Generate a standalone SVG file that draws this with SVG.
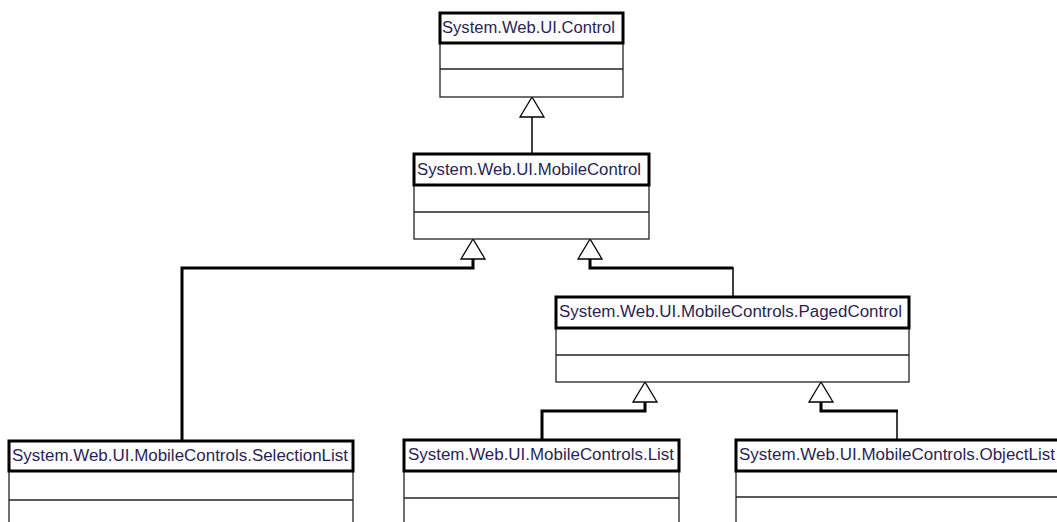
<svg xmlns="http://www.w3.org/2000/svg" width="1057" height="522" viewBox="0 0 1057 522">
<style>
.body{fill:#fff;stroke:#222;stroke-width:1.3}
.head{fill:#fff;stroke:#000;stroke-width:3}
.div{stroke:#222;stroke-width:1.3}
.lbl{font-family:"Liberation Sans",Arial,sans-serif;font-size:16px;fill:#2a1f55}
.thick{fill:none;stroke:#000;stroke-width:3}
.thin{fill:none;stroke:#000;stroke-width:1.5}
.tri{fill:#fff;stroke:#000;stroke-width:1.3}
</style>
<rect width="1057" height="522" fill="#fff"/>
<g id="connectors">
  <!-- MobileControl -> Control -->
  <line class="thin" x1="532" y1="117" x2="532" y2="153"/>
  <polygon class="tri" points="532,97 520,117 544,117"/>
  <!-- SelectionList -> MobileControl -->
  <polyline class="thick" points="182,440 182,268 473,268 473,259"/>
  <polygon class="tri" points="473,239 461,259 485,259"/>
  <!-- PagedControl -> MobileControl -->
  <polyline class="thick" points="590,259 590,268 733,268"/>
  <line class="thin" x1="733" y1="267" x2="733" y2="297"/>
  <polygon class="tri" points="590,239 578,259 602,259"/>
  <!-- List -> PagedControl -->
  <polyline class="thick" points="542,440 542,411 645,411 645,402"/>
  <polygon class="tri" points="645,382 633,402 657,402"/>
  <!-- ObjectList -> PagedControl -->
  <polyline class="thick" points="821,402 821,411 898,411"/>
  <line class="thin" x1="897" y1="410" x2="897" y2="440"/>
  <polygon class="tri" points="821,382 809,402 833,402"/>
</g>
<g id="n-control">
  <rect class="body" x="440" y="43" width="183" height="54"/>
  <line class="div" x1="440" y1="69" x2="623" y2="69"/>
  <rect class="head" x="440" y="13" width="183" height="30"/>
  <text class="lbl" x="442" y="33" textLength="173" lengthAdjust="spacingAndGlyphs">System.Web.UI.Control</text>
</g>
<g id="n-mobilecontrol">
  <rect class="body" x="414" y="185" width="235" height="54"/>
  <line class="div" x1="414" y1="212" x2="649" y2="212"/>
  <rect class="head" x="414" y="154" width="235" height="31"/>
  <text class="lbl" x="417" y="175" textLength="224" lengthAdjust="spacingAndGlyphs">System.Web.UI.MobileControl</text>
</g>
<g id="n-pagedcontrol">
  <rect class="body" x="556" y="328" width="353" height="54"/>
  <line class="div" x1="556" y1="355" x2="909" y2="355"/>
  <rect class="head" x="556" y="297" width="353" height="31"/>
  <text class="lbl" x="559" y="317" textLength="343" lengthAdjust="spacingAndGlyphs">System.Web.UI.MobileControls.PagedControl</text>
</g>
<g id="n-selectionlist">
  <rect class="body" x="9" y="471" width="344" height="60"/>
  <line class="div" x1="9" y1="500" x2="353" y2="500"/>
  <rect class="head" x="9" y="441" width="344" height="30"/>
  <text class="lbl" x="12" y="461" textLength="336" lengthAdjust="spacingAndGlyphs">System.Web.UI.MobileControls.SelectionList</text>
</g>
<g id="n-list">
  <rect class="body" x="404" y="471" width="275" height="60"/>
  <line class="div" x1="404" y1="498" x2="679" y2="498"/>
  <rect class="head" x="404" y="440" width="275" height="31"/>
  <text class="lbl" x="408" y="460" textLength="266" lengthAdjust="spacingAndGlyphs">System.Web.UI.MobileControls.List</text>
</g>
<g id="n-objectlist">
  <rect class="body" x="736" y="471" width="340" height="60"/>
  <line class="div" x1="736" y1="497" x2="1076" y2="497"/>
  <rect class="head" x="736" y="440" width="340" height="31"/>
  <text class="lbl" x="739" y="460" textLength="316" lengthAdjust="spacingAndGlyphs">System.Web.UI.MobileControls.ObjectList</text>
</g>
</svg>
